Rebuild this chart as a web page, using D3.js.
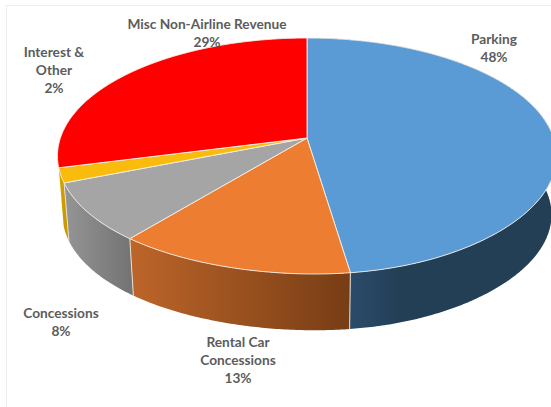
<!DOCTYPE html>
<html>
<head>
<meta charset="utf-8">
<script src="https://cdn.jsdelivr.net/npm/d3@7"></script>
<style>
  html, body { margin: 0; padding: 0; background: #fff; }
  svg { display: block; }
  text { font-family: Lato, "Open Sans", sans-serif; font-weight: 700; font-size: 13.7px; fill: #5c5c5c; text-anchor: middle; }
</style>
</head>
<body>
<svg id="chart" width="551" height="407"></svg>
<script>
// Airport non-airline revenue shares, clockwise from twelve o'clock
const categories = ["Parking", "Rental Car Concessions", "Concessions", "Interest & Other", "Misc Non-Airline Revenue"];
const shares = [48, 13, 8, 2, 29];
const faceColors = ["#5b9bd5", "#ed7d31", "#a5a5a5", "#f9bb0c", "#ff0000"];
const wallStartColors = ["#2a4b69", "#bd6529", "#959595", "#dcaa00"];
const wallEndColors = ["#233f56", "#773d15", "#747474", "#c99a00"];
const labelLines = [["Parking", "48%"], ["Rental Car", "Concessions", "13%"], ["Concessions", "8%"], ["Interest &", "Other", "2%"], ["Misc Non-Airline Revenue", "29%"]];

// Tilted-disc projection: the pie centre sits above the middle of the ellipse
const hub = { x: 307, y: 138 };
const spread = { x: 246.6, y: 115.25 };
const foreshorten = 0.1525;
const frontLean = 7.4;
const wallDrop = 59;
const wallShrink = 0.98;

function project(angle, drop = 0, shrink = 1) {
  const u = Math.sin(angle), v = -Math.cos(angle);
  const w = 1 - foreshorten * v;
  // the nearest rim points lean slightly to the right
  const lean = v > 0 ? frontLean * Math.pow(v, 8) : 0;
  return [hub.x + lean + shrink * spread.x * u / w, hub.y + drop + shrink * spread.y * v / w];
}

const pie = d3.pie().sort(null).value(d => d.share);
const slices = pie(categories.map((name, i) => ({ name, share: shares[i], i })));

const edgePoints = (a0, a1, drop, shrink) => {
  const n = Math.max(2, Math.ceil((a1 - a0) / 0.01));
  return d3.range(n + 1).map(k => project(a0 + (a1 - a0) * k / n, drop, shrink));
};
const line = d3.line();

const svg = d3.select("#chart");
const defs = svg.append("defs");

// Faint frame around the chart area
svg.append("path").attr("d", "M6.5,407V5.5H551").attr("fill", "none").attr("stroke", "#ececec");

// Outer wall of the near slices, each with a horizontal shade
const walls = svg.append("g");
const wallSlices = slices.filter(s => s.data.i < wallStartColors.length);
wallSlices.forEach(s => {
  const i = s.data.i;
  const top = edgePoints(s.startAngle, s.endAngle, 0, 1);
  const bottom = edgePoints(s.startAngle, s.endAngle, wallDrop, wallShrink).reverse();
  const seamX = project(s.endAngle)[0];
  const farX = i === 0 ? 551 : project(s.startAngle)[0];
  const grad = defs.append("linearGradient").attr("id", "wall" + i)
    .attr("gradientUnits", "userSpaceOnUse")
    .attr("x1", seamX).attr("x2", farX)
    .attr("y1", 0).attr("y2", 0);
  grad.append("stop").attr("offset", 0).attr("stop-color", wallStartColors[i]);
  grad.append("stop").attr("offset", i === 0 ? 0.25 : 1).attr("stop-color", wallEndColors[i]);
  walls.append("path")
    .attr("d", line(top.concat(bottom)) + "Z")
    .attr("fill", `url(#wall${i})`);
});

// Pale seams where the front wall slices meet
slices.slice(1, 4).forEach(s => {
  walls.append("path")
    .attr("d", line([project(s.startAngle), project(s.startAngle, wallDrop, wallShrink)]))
    .attr("stroke", "#e9e0d4").attr("stroke-width", 1).attr("fill", "none");
});

// Top face of the pie
svg.append("g").selectAll("path").data(slices).join("path")
  .attr("d", s => line([[hub.x, hub.y]].concat(edgePoints(s.startAngle, s.endAngle, 0, 1))) + "Z")
  .attr("fill", s => faceColors[s.data.i])
  .attr("stroke", "#f4f1ea").attr("stroke-width", 0.9).attr("stroke-linejoin", "round");

// Data labels
const labelAnchors = [[494, 44], [238, 347], [61, 318], [54, 57], [207, 29]];
const labels = svg.append("g");
labelLines.forEach((rows, i) => {
  const t = labels.append("text").attr("x", labelAnchors[i][0]).attr("y", labelAnchors[i][1]);
  rows.forEach((row, r) => t.append("tspan").attr("x", labelAnchors[i][0]).attr("dy", r ? 18 : 0).text(row));
});
</script>
</body>
</html>
